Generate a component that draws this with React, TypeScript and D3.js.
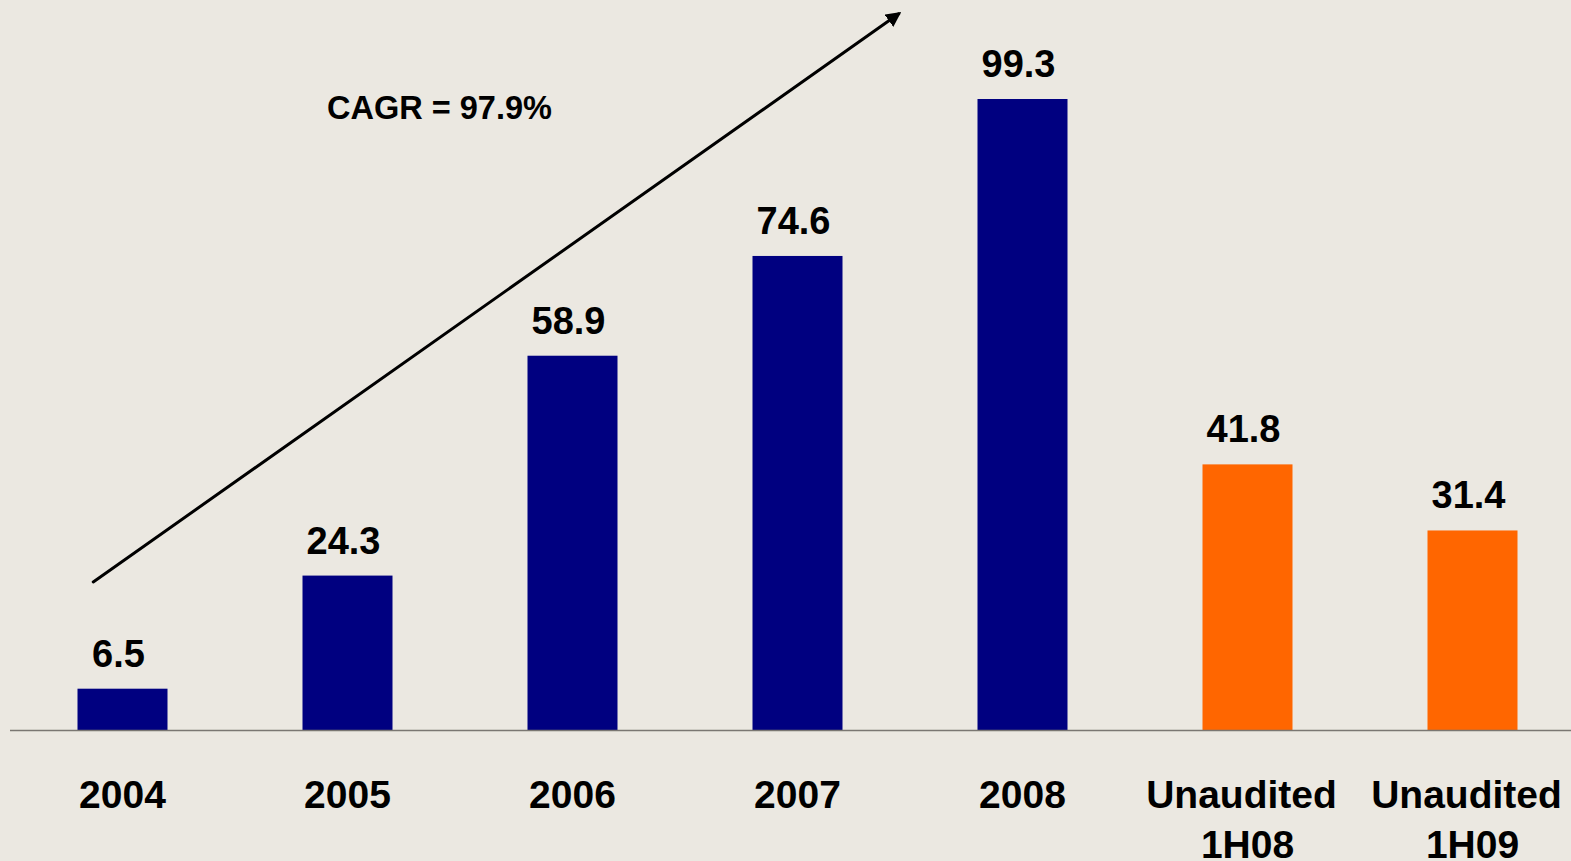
import { useEffect, useRef } from "react";
import * as d3 from "d3";

// revenue figures
const categories = ["2004", "2005", "2006", "2007", "2008", "Unaudited 1H08", "Unaudited 1H09"];
const values = [6.5, 24.3, 58.9, 74.6, 99.3, 41.8, 31.4];
const audited = [true, true, true, true, true, false, false];
const labelLines = [["2004"], ["2005"], ["2006"], ["2007"], ["2008"], ["Unaudited", "1H08"], ["Unaudited", "1H09"]];

// CAGR arrow, in (category index, value) space
const arrowFrom = [-0.13, 23.3];
const arrowTo = [3.45, 112.7];
const cagrText = "CAGR = 97.9%";

export default function App() {
  const ref = useRef<SVGSVGElement>(null);

  useEffect(() => {
    document.body.style.margin = "0";
    const width = 1571;
    const height = 861;
    const baseline = 730;
    const font = "'Liberation Sans', Arial, sans-serif";

    const svg = d3.select(ref.current);
    svg.selectAll("*").remove();
    svg.attr("viewBox", `0 0 ${width} ${height}`);

    svg.append("rect").attr("width", width).attr("height", height).attr("fill", "#EBE8E1");

    const x = d3
      .scaleBand()
      .domain(categories)
      .range([10, 10 + 7 * 225])
      .paddingInner(0.6)
      .paddingOuter(0.3);

    const y = d3.scaleLinear().domain([0, 99.3]).range([baseline, 99]);

    const center = (i: number) => x(categories[0])! + x.bandwidth() / 2 + i * x.step();

    const defs = svg.append("defs");
    defs
      .append("marker")
      .attr("id", "head")
      .attr("viewBox", "0 0 10 10")
      .attr("refX", 8)
      .attr("refY", 5)
      .attr("markerWidth", 5)
      .attr("markerHeight", 5)
      .attr("orient", "auto")
      .append("path")
      .attr("d", "M0,0 L10,5 L0,10 Z")
      .attr("fill", "#000");

    svg
      .append("g")
      .selectAll("rect")
      .data(values)
      .join("rect")
      .attr("x", (_, i) => x(categories[i])!)
      .attr("y", (d) => y(d))
      .attr("width", x.bandwidth())
      .attr("height", (d) => baseline - y(d))
      .attr("fill", (_, i) => (audited[i] ? "#000080" : "#FF6600"));

    svg
      .append("line")
      .attr("x1", 10)
      .attr("x2", width)
      .attr("y1", baseline + 0.5)
      .attr("y2", baseline + 0.5)
      .attr("stroke", "#7a7772")
      .attr("stroke-width", 1.5);

    svg
      .append("g")
      .selectAll("text")
      .data(values)
      .join("text")
      .attr("x", (_, i) => center(i) - 4)
      .attr("y", (d) => y(d) - 22)
      .attr("text-anchor", "middle")
      .attr("font-family", font)
      .attr("font-weight", "bold")
      .attr("font-size", 38)
      .attr("fill", "#000")
      .text((d) => d.toFixed(1));

    const cat = svg
      .append("g")
      .selectAll("text")
      .data(labelLines)
      .join("text")
      .attr("text-anchor", "middle")
      .attr("font-family", font)
      .attr("font-weight", "bold")
      .attr("font-size", 39)
      .attr("fill", "#000");
    cat
      .selectAll("tspan")
      .data((d, i) => d.map((t, j) => ({ t, i, j, n: d.length })))
      .join("tspan")
      .attr("x", (d) => center(d.i) - (d.n > 1 && d.j === 0 ? 6 : 0))
      .attr("y", (d) => baseline + 78 + d.j * 50)
      .text((d) => d.t);

    svg
      .append("line")
      .attr("x1", center(arrowFrom[0]))
      .attr("y1", y(arrowFrom[1]))
      .attr("x2", center(arrowTo[0]))
      .attr("y2", y(arrowTo[1]))
      .attr("stroke", "#000")
      .attr("stroke-width", 3)
      .attr("stroke-linecap", "round")
      .attr("marker-end", "url(#head)");

    svg
      .append("text")
      .attr("x", 327)
      .attr("y", 119)
      .attr("font-family", font)
      .attr("font-weight", "bold")
      .attr("font-size", 32.5)
      .attr("fill", "#000")
      .text(cagrText);
  }, []);

  return <svg ref={ref} width={1571} height={861} style={{ display: "block" }} />;
}
